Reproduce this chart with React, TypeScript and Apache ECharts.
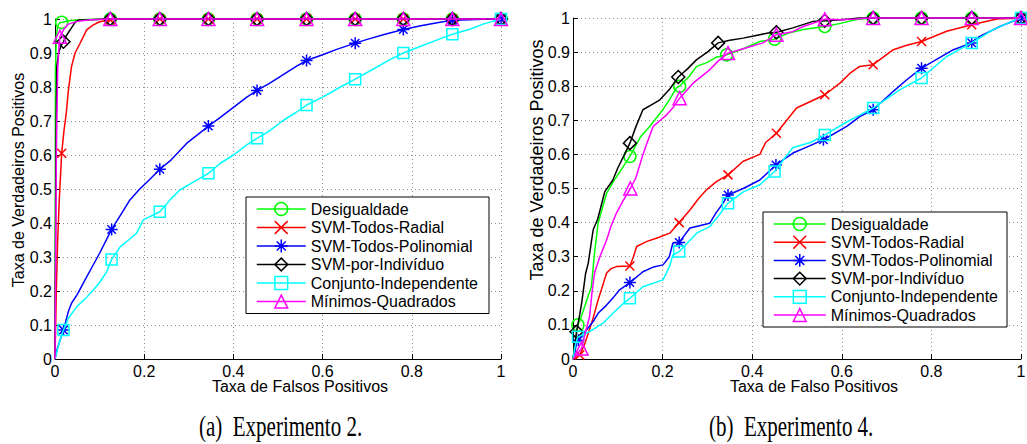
import React, { useEffect, useRef } from "react";
import * as echarts from "echarts";

type Pt = [number, number];

const seriesNames = [
  "Desigualdade",
  "SVM-Todos-Radial",
  "SVM-Todos-Polinomial",
  "SVM-por-Indivíduo",
  "Conjunto-Independente",
  "Mínimos-Quadrados",
];
const seriesColors = ["#00ff00", "#ff0000", "#0000ff", "#000000", "#00ffff", "#ff00ff"];
const seriesSymbols = [
  "circle",
  "path://M0,0L10,10M0,10L10,0",
  "path://M5,0L5,10M0,5L10,5M1.5,1.5L8.5,8.5M1.5,8.5L8.5,1.5",
  "diamond",
  "rect",
  "triangle",
];
const symbolSizes = [12, 9, 12, 13, 11, 13];

const xTitles = ["Taxa de Falsos Positivos", "Taxa de Falso Positivos"];
const yTitle = "Taxa de Verdadeiros Positivos";
const captions = ["(a)  Experimento 2.", "(b)  Experimento 4."];

// ---------- Experimento 2 ----------
const exp2Desigualdade: Pt[] = [[0, 0], [0.001, 0.85], [0.003, 0.95], [0.006, 0.98], [0.01, 0.988], [0.03, 0.995], [0.06, 0.998], [0.1, 1], [1, 1]];
const exp2DesigualdadeMarks: Pt[] = [[0.015, 0.99], [0.124, 1], [0.235, 1], [0.344, 1], [0.453, 1], [0.564, 1], [0.673, 1], [0.781, 1], [0.891, 1], [1, 1]];

const exp2Radial: Pt[] = [[0, 0], [0.003, 0.2], [0.006, 0.35], [0.01, 0.48], [0.02, 0.67], [0.025, 0.72], [0.03, 0.79], [0.037, 0.86], [0.045, 0.9], [0.056, 0.928], [0.071, 0.968], [0.085, 0.982], [0.1, 0.992], [0.14, 1], [1, 1]];
const exp2RadialMarks: Pt[] = [[0.015, 0.605], [0.124, 0.997], [0.235, 1], [0.344, 1], [0.453, 1], [0.564, 1], [0.673, 1], [0.781, 1], [0.891, 1], [1, 1]];

const exp2Polinomial: Pt[] = [[0, 0], [0.005, 0.03], [0.01, 0.05], [0.03, 0.14], [0.037, 0.164], [0.05, 0.19], [0.067, 0.232], [0.085, 0.275], [0.1, 0.311], [0.15, 0.43], [0.168, 0.468], [0.19, 0.5], [0.21, 0.525], [0.26, 0.585], [0.295, 0.634], [0.32, 0.66], [0.37, 0.71], [0.392, 0.732], [0.43, 0.77], [0.48, 0.81], [0.51, 0.835], [0.54, 0.86], [0.6, 0.895], [0.63, 0.91], [0.7, 0.94], [0.74, 0.955], [0.82, 0.98], [0.86, 0.99], [0.93, 0.998], [0.96, 0.999]];
const exp2PolinomialMarks: Pt[] = [[0.019, 0.085], [0.127, 0.381], [0.235, 0.558], [0.344, 0.685], [0.453, 0.79], [0.564, 0.878], [0.673, 0.929], [0.781, 0.969], [0.891, 0.996], [1, 1]];

const exp2Individuo: Pt[] = [[0, 0], [0.002, 0.6], [0.004, 0.86], [0.008, 0.9], [0.013, 0.92], [0.025, 0.95], [0.035, 0.97], [0.045, 0.99], [0.052, 0.997], [0.08, 0.998], [0.12, 1], [1, 1]];
const exp2IndividuoMarks: Pt[] = [[0.019, 0.933], [0.124, 1], [0.235, 1], [0.344, 1], [0.453, 1], [0.564, 1], [0.673, 1], [0.781, 1], [0.891, 1], [1, 1]];

const exp2Conjunto: Pt[] = [[0, 0], [0.01, 0.05], [0.03, 0.12], [0.049, 0.154], [0.07, 0.18], [0.086, 0.203], [0.1, 0.225], [0.116, 0.257], [0.146, 0.33], [0.165, 0.35], [0.183, 0.37], [0.198, 0.409], [0.215, 0.42], [0.258, 0.468], [0.28, 0.497], [0.31, 0.52], [0.37, 0.575], [0.4, 0.6], [0.43, 0.63], [0.48, 0.67], [0.51, 0.7], [0.54, 0.725], [0.6, 0.77], [0.64, 0.8], [0.71, 0.85], [0.75, 0.88], [0.82, 0.92], [0.86, 0.94], [0.93, 0.97], [0.96, 0.985]];
const exp2ConjuntoMarks: Pt[] = [[0.019, 0.085], [0.127, 0.293], [0.235, 0.433], [0.344, 0.546], [0.453, 0.649], [0.564, 0.747], [0.673, 0.823], [0.781, 0.9], [0.891, 0.955], [1, 1]];

const exp2Minimos: Pt[] = [[0, 0], [0.003, 0.6], [0.006, 0.85], [0.009, 0.92], [0.02, 0.97], [0.03, 0.985], [0.05, 0.993], [0.08, 0.998], [0.12, 1], [1, 1]];
const exp2MinimosMarks: Pt[] = [[0.011, 0.948], [0.124, 1], [0.235, 1], [0.344, 1], [0.453, 1], [0.564, 1], [0.673, 1], [0.781, 1], [0.891, 1], [1, 1]];

// ---------- Experimento 4 ----------
const exp4Desigualdade: Pt[] = [[0, 0], [0.005, 0.05], [0.02, 0.13], [0.03, 0.17], [0.041, 0.212], [0.048, 0.31], [0.056, 0.398], [0.065, 0.44], [0.075, 0.486], [0.09, 0.52], [0.1, 0.54], [0.115, 0.57], [0.15, 0.65], [0.171, 0.682], [0.2, 0.73], [0.215, 0.76], [0.231, 0.795], [0.26, 0.83], [0.276, 0.858], [0.3, 0.87], [0.32, 0.885], [0.38, 0.91], [0.417, 0.931], [0.48, 0.955], [0.514, 0.966], [0.6, 0.985], [0.63, 0.995], [0.663, 1], [1, 1]];
const exp4DesigualdadeMarks: Pt[] = [[0.011, 0.1], [0.127, 0.594], [0.238, 0.8], [0.343, 0.892], [0.45, 0.938], [0.562, 0.975], [0.67, 1], [0.778, 1], [0.89, 1], [1, 1]];

const exp4Radial: Pt[] = [[0, 0], [0.008, 0.005], [0.025, 0.04], [0.034, 0.075], [0.045, 0.12], [0.056, 0.173], [0.065, 0.21], [0.075, 0.252], [0.085, 0.265], [0.097, 0.271], [0.135, 0.3], [0.142, 0.33], [0.165, 0.345], [0.186, 0.354], [0.216, 0.369], [0.261, 0.437], [0.28, 0.47], [0.298, 0.496], [0.32, 0.52], [0.38, 0.58], [0.417, 0.6], [0.43, 0.635], [0.499, 0.736], [0.53, 0.755], [0.596, 0.809], [0.62, 0.84], [0.64, 0.858], [0.715, 0.907], [0.745, 0.92], [0.834, 0.961], [0.946, 0.997], [1, 1]];
const exp4RadialMarks: Pt[] = [[0.015, 0.012], [0.127, 0.273], [0.237, 0.4], [0.346, 0.54], [0.454, 0.662], [0.562, 0.775], [0.67, 0.863], [0.778, 0.931], [0.89, 0.98], [1, 1]];

const exp4Polinomial: Pt[] = [[0, 0], [0.004, 0.02], [0.008, 0.046], [0.03, 0.085], [0.045, 0.11], [0.056, 0.134], [0.075, 0.158], [0.09, 0.18], [0.104, 0.203], [0.156, 0.256], [0.18, 0.27], [0.201, 0.276], [0.215, 0.3], [0.223, 0.34], [0.261, 0.384], [0.28, 0.39], [0.305, 0.398], [0.32, 0.43], [0.335, 0.457], [0.38, 0.5], [0.417, 0.525], [0.491, 0.604], [0.528, 0.625], [0.611, 0.682], [0.64, 0.711], [0.715, 0.785], [0.745, 0.819], [0.804, 0.873], [0.849, 0.907], [0.908, 0.946], [0.953, 0.975], [0.99, 0.995]];
const exp4PolinomialMarks: Pt[] = [[0.012, 0.055], [0.127, 0.224], [0.237, 0.342], [0.346, 0.481], [0.453, 0.569], [0.559, 0.643], [0.67, 0.731], [0.778, 0.853], [0.89, 0.927], [1, 1]];

const exp4Individuo: Pt[] = [[0, 0], [0.003, 0.03], [0.015, 0.13], [0.02, 0.17], [0.028, 0.25], [0.034, 0.281], [0.045, 0.379], [0.055, 0.41], [0.063, 0.45], [0.071, 0.491], [0.089, 0.525], [0.1, 0.56], [0.115, 0.6], [0.14, 0.68], [0.156, 0.731], [0.175, 0.745], [0.194, 0.76], [0.215, 0.79], [0.255, 0.85], [0.276, 0.878], [0.3, 0.9], [0.35, 0.935], [0.38, 0.941], [0.436, 0.956], [0.491, 0.971], [0.536, 0.99], [0.6, 0.995], [0.64, 1], [1, 1]];
const exp4IndividuoMarks: Pt[] = [[0.008, 0.08], [0.127, 0.633], [0.235, 0.827], [0.324, 0.927], [0.454, 0.958], [0.562, 0.992], [0.67, 1], [0.778, 1], [0.89, 1], [1, 1]];

const exp4Conjunto: Pt[] = [[0, 0], [0.005, 0.04], [0.037, 0.08], [0.067, 0.105], [0.089, 0.134], [0.11, 0.16], [0.156, 0.212], [0.201, 0.232], [0.215, 0.27], [0.223, 0.305], [0.276, 0.369], [0.305, 0.388], [0.325, 0.42], [0.38, 0.49], [0.417, 0.511], [0.491, 0.62], [0.53, 0.635], [0.611, 0.695], [0.64, 0.715], [0.73, 0.79], [0.834, 0.887], [0.938, 0.966], [0.98, 0.99]];
const exp4ConjuntoMarks: Pt[] = [[0.011, 0.065], [0.127, 0.178], [0.237, 0.315], [0.346, 0.457], [0.45, 0.55], [0.562, 0.657], [0.67, 0.736], [0.778, 0.824], [0.89, 0.927], [1, 1]];

const exp4Minimos: Pt[] = [[0, 0], [0.01, 0.015], [0.028, 0.08], [0.037, 0.124], [0.042, 0.19], [0.048, 0.252], [0.06, 0.3], [0.075, 0.349], [0.085, 0.39], [0.097, 0.428], [0.11, 0.46], [0.14, 0.53], [0.156, 0.599], [0.167, 0.64], [0.179, 0.682], [0.195, 0.7], [0.209, 0.716], [0.225, 0.74], [0.268, 0.809], [0.305, 0.848], [0.325, 0.875], [0.38, 0.91], [0.424, 0.927], [0.49, 0.96], [0.514, 0.975], [0.6, 0.995], [0.633, 0.997], [0.66, 1], [1, 1]];
const exp4MinimosMarks: Pt[] = [[0.019, 0.031], [0.128, 0.5], [0.238, 0.765], [0.346, 0.897], [0.454, 0.951], [0.562, 0.996], [0.67, 1], [0.778, 1], [0.89, 1], [1, 1]];

const exp2Curves = [exp2Desigualdade, exp2Radial, exp2Polinomial, exp2Individuo, exp2Conjunto, exp2Minimos];
const exp2Marks = [exp2DesigualdadeMarks, exp2RadialMarks, exp2PolinomialMarks, exp2IndividuoMarks, exp2ConjuntoMarks, exp2MinimosMarks];
const exp4Curves = [exp4Desigualdade, exp4Radial, exp4Polinomial, exp4Individuo, exp4Conjunto, exp4Minimos];
const exp4Marks = [exp4DesigualdadeMarks, exp4RadialMarks, exp4PolinomialMarks, exp4IndividuoMarks, exp4ConjuntoMarks, exp4MinimosMarks];

const FONT = '"Liberation Sans", Arial, Helvetica, sans-serif';
const SERIF = '"Liberation Serif", "Times New Roman", serif';

function mergeData(curve: Pt[], marks: Pt[]) {
  const all = [
    ...curve.map((p) => ({ p, m: false })),
    ...marks.map((p) => ({ p, m: true })),
  ];
  all.sort((a, b) => a.p[0] - b.p[0] || a.p[1] - b.p[1]);
  return all.map(({ p, m }) => (m ? { value: p } : { value: p, symbol: "none" }));
}

function makeSeries(curves: Pt[][], marks: Pt[][], idx: number) {
  return curves.map((c, i) => ({
    type: "line",
    name: seriesNames[i],
    xAxisIndex: idx,
    yAxisIndex: idx,
    data: mergeData(c, marks[i]),
    symbol: seriesSymbols[i],
    symbolSize: symbolSizes[i],
    showSymbol: true,
    clip: false,
    lineStyle: { color: seriesColors[i], width: 1.5 },
    itemStyle: { color: "transparent", borderColor: seriesColors[i], borderWidth: 1.5 },
    emphasis: { disabled: true },
    z: 2 + i * 0.01,
  }));
}

function axisCommon(interval: number, margin: number) {
  return {
    type: "value",
    min: 0,
    max: 1,
    interval,
    axisLine: { show: true, onZero: false, lineStyle: { color: "#000", width: 1 } },
    axisTick: { show: true, inside: true, length: 5, lineStyle: { color: "#000", width: 1 } },
    splitLine: { show: true, lineStyle: { color: "#8c8c8c", width: 1, type: [1, 3] } },
    axisLabel: { color: "#000", fontSize: 16, fontFamily: FONT, margin },
  };
}

function legendFor(left: number, top: number, itemWidth: number, itemGap: number, padding: number[]) {
  return {
    show: true,
    orient: "vertical",
    left,
    top,
    data: seriesNames,
    itemWidth,
    itemHeight: 16,
    itemGap,
    padding,
    borderColor: "#000",
    borderWidth: 1,
    borderRadius: 0,
    backgroundColor: "#fff",
    selectedMode: false,
    textStyle: { color: "#000", fontSize: 16, fontFamily: FONT },
    itemStyle: { borderWidth: 1.5 },
    lineStyle: { width: 1.5 },
  };
}

function textEl(text: string, x: number, y: number, font: string, extra: any = {}, align = "center") {
  return {
    type: "text",
    x,
    y,
    silent: true,
    ...extra,
    style: {
      text,
      font,
      fill: "#000",
      align,
      verticalAlign: "middle",
      textAlign: align,
      textVerticalAlign: "middle",
    },
  };
}

export default function App() {
  const ref = useRef<HTMLDivElement>(null);
  useEffect(() => {
    if (!ref.current) return;
    const chart = echarts.init(ref.current, null, { renderer: "svg", width: 1027, height: 444 });
    const option: any = {
      animation: false,
      backgroundColor: "#fff",
      textStyle: { fontFamily: FONT },
      grid: [
        { left: 55, top: 19, width: 446, height: 340, outerBoundsMode: "none", containLabel: false },
        { left: 573, top: 18, width: 448, height: 341, outerBoundsMode: "none", containLabel: false },
      ],
      xAxis: [
        { ...axisCommon(0.2, 4), gridIndex: 0 },
        { ...axisCommon(0.2, 4), gridIndex: 1 },
      ],
      yAxis: [
        { ...axisCommon(0.1, 3), gridIndex: 0 },
        { ...axisCommon(0.1, 3), gridIndex: 1 },
      ],
      legend: [
        legendFor(246, 197, 49, 2.5, [4, 11, 4, 10]),
        legendFor(763, 212, 52, 2.2, [4, 9, 4, 10]),
      ],
      series: [...makeSeries(exp2Curves, exp2Marks, 0), ...makeSeries(exp4Curves, exp4Marks, 1)],
      graphic: [
        textEl(xTitles[0], 300, 386, `16px ${FONT}`),
        textEl(xTitles[1], 814, 386, `16px ${FONT}`),
        textEl(yTitle, 18, 180, `16px ${FONT}`, { rotation: Math.PI / 2 }),
        textEl(yTitle, 537, 160, `18px ${FONT}`, { rotation: Math.PI / 2 }),
        textEl(captions[0], 199, 426, `21px ${SERIF}`, { scaleY: 1.45 }, "left"),
        textEl(captions[1], 709, 426, `21px ${SERIF}`, { scaleY: 1.45 }, "left"),
      ],
    };
    chart.setOption(option);
    return () => chart.dispose();
  }, []);
  return (
    <div
      ref={ref}
      style={{ position: "absolute", left: 0, top: 0, width: 1027, height: 444, background: "#fff" }}
    />
  );
}
